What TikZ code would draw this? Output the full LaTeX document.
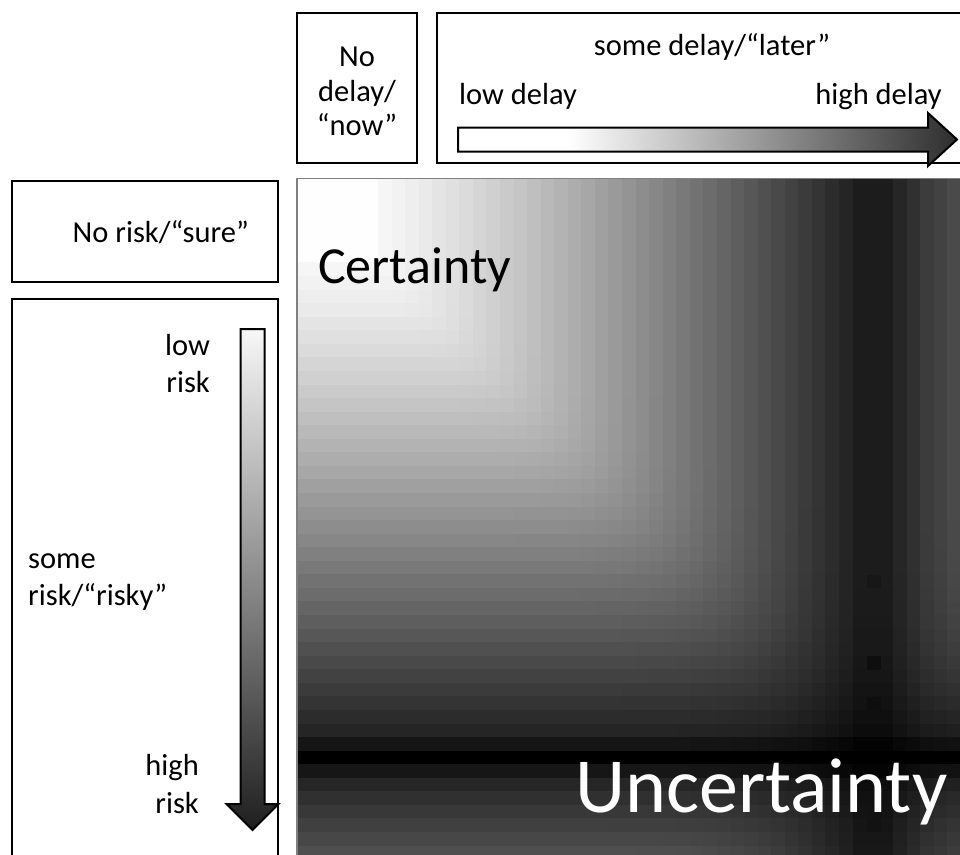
\documentclass[tikz,border=0pt]{standalone}
\usepackage{fontspec}
\setmainfont{Carlito}
% TikZ maps a path's bounding box onto the middle (25bp..75bp) of a shading
\pgfdeclarehorizontalshading{delayshade}{100bp}{color(0bp)=(white); color(36bp)=(white); color(75bp)=(black!82); color(100bp)=(black!82)}
\pgfdeclareverticalshading{riskshade}{100bp}{color(0bp)=(black!88); color(25bp)=(black!88); color(75bp)=(black!3); color(100bp)=(black!3)}
\begin{document}
\begin{tikzpicture}[x=1pt,y=-1pt,
  lbl/.style={inner sep=0pt, font=\fontsize{30.5}{37}\selectfont},
  framebox/.style={draw=black, line width=2pt},
  arrowbody/.style={draw=black, line width=2pt, line join=miter},
]
\clip (0,0) rectangle (960,854);
\fill[white] (0,0) rectangle (960,854);

% ---------- darkness profiles ----------
\def\coltail{{0.89,0.89,0.89,0.85,0.81,0.765,0.74,0.71}}
\def\rowtail{{0.918,1.0,0.914,0.85,0.81,0.78,0.75,0.72,0.69}}
\foreach \i in {0,...,48}{%
  \ifnum\i<6 \gdef\tmpv{0.004}%
  \else\ifnum\i<41 \pgfmathparse{(8+210*((\i-5.5)/34.5)^1.2)/255}\xdef\tmpv{\pgfmathresult}%
  \else\pgfmathparse{\coltail[\i-41]}\xdef\tmpv{\pgfmathresult}\fi\fi
  \expandafter\xdef\csname dc\i\endcsname{\tmpv}%
}
\foreach \j in {0,...,49}{%
  \ifnum\j<6 \gdef\tmpv{0.004}%
  \else\ifnum\j<41 \pgfmathparse{(8+210*((\j-5.5)/34.5)^1.2)/255}\xdef\tmpv{\pgfmathresult}%
  \else\pgfmathparse{\rowtail[\j-41]}\xdef\tmpv{\pgfmathresult}\fi\fi
  \expandafter\xdef\csname dr\j\endcsname{\tmpv}%
}
% ---------- heat map ----------
\begin{scope}
\clip (297,178) rectangle (960,854);
\foreach \i in {0,...,48}{
  \foreach \j in {0,...,49}{
    \edef\va{\csname dc\i\endcsname}%
    \edef\vb{\csname dr\j\endcsname}%
    \pgfmathsetmacro\vm{max(\va,\vb)}%
    \pgfmathsetmacro\vn{min(\va,\vb)}%
    \pgfmathsetmacro\vr{\vn/\vm}%
    \pgfmathsetmacro\vq{\vr*\vr}%
    \pgfmathsetmacro\vq{\vq*\vq}%
    \pgfmathsetmacro\vq{\vq*\vq}%
    \pgfmathsetmacro\vk{100*min(1,\vm*(1+\vq)^0.125)}%
    \pgfmathsetmacro\xx{297+13.56*\i-0.4}%
    \pgfmathsetmacro\yy{181.5+13.56*\j-0.4-4*(\j==0)}%
    \pgfmathsetmacro\hh{14.36+4*(\j==0)}%
    \fill[black!\vk] (\xx,\yy) rectangle ++(14.36,\hh);
  }
}
\foreach \j/\k in {29/91,35/94.5,38/94.5,46/93,47/93}{
  \pgfmathsetmacro\yy{181.5+13.56*\j}%
  \fill[black!\k] (866.96,\yy) rectangle ++(13.56,13.56);
}
\end{scope}
\draw[black!50, line width=1.2pt] (297,860) -- (297,178.5) -- (965,178.5);

\node[inner sep=0pt, anchor=base west, font=\fontsize{52}{60}\selectfont] (cert) at (318,283) {Certainty};
\node[inner sep=0pt, anchor=base west, text=white, font=\fontsize{78}{90}\selectfont] (uncert) at (575,812) {Uncertainty};

% ---------- top boxes ----------
\draw[framebox] (297.3,12.7) rectangle (416.7,163);
\node[lbl, anchor=base] (nd1) at (357,66) {No};
\node[lbl, anchor=base] (nd2) at (357,101) {delay/};
\node[lbl, anchor=base] (nd3) at (357,135) {“now”};

\draw[framebox] (436.7,12.7) rectangle (990,163);
\node[lbl, anchor=base] (sd) at (712,55) {some delay/“later”};
\node[lbl, anchor=base west] (lowd) at (459,104) {low delay};
\node[lbl, anchor=base east] (highd) at (942,104) {high delay};
\shade[shading=delayshade] (458,127.5) -- (928,127.5) -- (928,113) -- (957,139.5) -- (928,166) -- (928,151.5) -- (458,151.5) -- cycle;
\draw[arrowbody] (458,127.5) -- (928,127.5) -- (928,113) -- (957,139.5) -- (928,166) -- (928,151.5) -- (458,151.5) -- cycle;

% ---------- left boxes ----------
\draw[framebox] (11.7,180.7) rectangle (278,281.7);
\node[lbl, anchor=base east] (nr) at (249,242) {No risk/“sure”};

\draw[framebox] (11.7,299) rectangle (278,880);
\shade[shading=riskshade] (240.5,329) -- (264.5,329) -- (264.5,804) -- (278.5,804) -- (252.5,830) -- (226.5,804) -- (240.5,804) -- cycle;
\draw[arrowbody] (240.5,329) -- (264.5,329) -- (264.5,804) -- (278.5,804) -- (252.5,830) -- (226.5,804) -- (240.5,804) -- cycle;
\node[lbl, anchor=base east] (lr1) at (210,355) {low};
\node[lbl, anchor=base east] (lr2) at (210,392) {risk};
\node[lbl, anchor=base west] (sr1) at (28,568) {some};
\node[lbl, anchor=base west] (sr2) at (28,605) {risk/“risky”};
\node[lbl, anchor=base east] (hr1) at (199,775) {high};
\node[lbl, anchor=base east] (hr2) at (199,813) {risk};
\end{tikzpicture}
\end{document}
